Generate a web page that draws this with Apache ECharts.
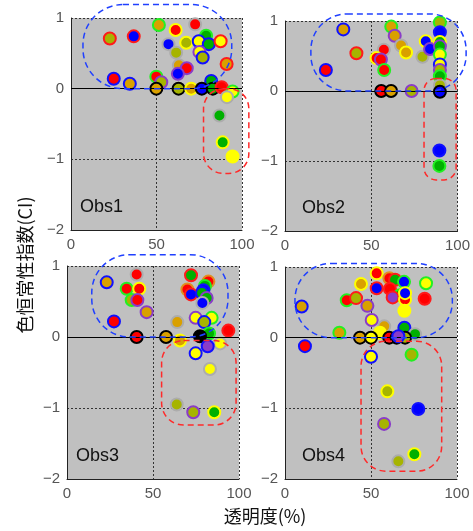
<!DOCTYPE html>
<html><head><meta charset="utf-8">
<script src="https://cdn.jsdelivr.net/npm/echarts@6/dist/echarts.min.js"></script>
<style>html,body{margin:0;padding:0;background:#fff}#c{width:473px;height:531px}</style>
</head><body><div id="c"></div><script>
// ---- data: [transparency %, CI, fill-condition, border-condition]
const panelNames = ['Obs1','Obs2','Obs3','Obs4'];
const xTicks = [0, 50, 100];
const yTicks = [-2, -1, 0, 1];
const xTitle = '透明度(%)';
const yTitle = '色恒常性指数(CI)';

const obs1 = [
[22.7,0.71,'L','R'],[36.7,0.74,'B','R'],[25,0.14,'R','B'],[34.4,0.07,'O','B'],
[51.4,0.90,'O','G'],[61.2,0.83,'R','Y'],[72.6,0.91,'R','N'],[57,0.63,'B','N'],
[67.4,0.65,'L','Y'],[61.5,0.51,'L','N'],[79,0.75,'G','G'],[74.7,0.67,'Y','B'],
[80.6,0.63,'G','B'],[87.5,0.67,'Y','R'],[75.1,0.52,'Y','P'],[77,0.44,'L','B'],
[63.1,0.33,'O','N'],[67.7,0.29,'R','P'],[62.5,0.21,'B','P'],[91,0.35,'O','R'],
[49.9,0.17,'R','G'],[52.8,0.09,'L','P'],[82,0.11,'G','B'],
[49.9,0,'O','K'],[62.9,0,'L','K'],[70.3,0,'O','Y'],[76.5,0,'B','K'],[82.9,0,'G','K'],
[88.1,0.02,'R','R'],[94.5,-0.04,'Y','G'],[91.2,-0.12,'Y','N'],
[86.8,-0.38,'G','N'],[88.7,-0.76,'G','Y'],[94.5,-0.96,'Y','Y']
];
const obs2 = [
[33.8,0.88,'O','B'],[41.4,0.54,'L','R'],[23.7,0.30,'R','B'],[61.6,0.92,'O','G'],
[63.6,0.79,'O','P'],[67.3,0.65,'O','N'],[70.2,0.55,'O','Y'],[57.3,0.59,'R','N'],
[53.1,0.47,'R','Y'],[55.6,0.45,'R','P'],[57.5,0.30,'R','G'],[81.6,0.71,'B','Y'],
[79.7,0.49,'L','N'],[84.1,0.60,'B','P'],
[89.8,0.98,'L','G'],[89.8,0.84,'B','B'],[89.8,0.70,'G','Y'],[89.8,0.64,'G','P'],
[89.8,0.52,'Y','G'],[89.8,0.38,'Y','B'],[89.8,0.30,'L','P'],[89.8,0.21,'G','G'],
[89.8,0.08,'L','N'],[89.8,-0.01,'B','K'],
[55.8,0,'R','K'],[61.5,0,'O','K'],[73.4,0,'L','P'],
[89.5,-0.85,'B','B'],[89.5,-1.07,'G','G']
];
const obs3 = [
[23.1,0.77,'O','B'],[40.5,0.88,'R','N'],[34.7,0.68,'R','G'],[42,0.68,'R','Y'],
[37.6,0.52,'L','G'],[40.9,0.52,'R','P'],[46.3,0.35,'O','P'],[27.3,0.22,'R','B'],
[40.5,0,'R','K'],[57.6,0,'O','K'],[64.1,0.21,'O','N'],
[72.1,0.87,'G','R'],[82.2,0.78,'R','O'],[80.2,0.72,'G','G'],[70,0.67,'R','O'],
[79.3,0.66,'B','B'],[72.1,0.60,'B','R'],[78.5,0.62,'G','B'],[81.2,0.55,'G','P'],
[78.7,0.48,'B','N'],[74.8,0.27,'Y','P'],[84.1,0.27,'Y','G'],[79.8,0.21,'L','B'],
[93.8,0.09,'R','R'],[82.6,0.05,'G','G'],[77.3,0.01,'K','K'],[65.7,-0.05,'O','Y'],
[89,-0.09,'Y','N'],[81.8,-0.13,'P','B'],[74.8,-0.23,'Y','B'],[83.1,-0.45,'Y','N'],
[63.8,-0.95,'L','N'],[73.4,-1.06,'L','P'],[85.6,-1.06,'G','Y']
];
const obs4 = [
[9.7,0.44,'O','B'],[11.6,-0.12,'R','B'],[31.6,0.07,'O','G'],[35.9,0.53,'R','G'],
[41.3,0.56,'L','R'],[44.2,0.76,'O','Y'],[53.3,0.91,'R','Y'],[53.3,0.70,'B','R'],
[47.9,0.45,'O','P'],[50.4,0.25,'Y','P'],[57.7,0.16,'O','N'],[55.2,0.07,'Y','Y'],
[60.7,0.84,'R','O'],[64,0.82,'G','R'],[61,0.69,'R','R'],[69.2,0.79,'B','G'],
[66.9,0.60,'G','G'],[62.6,0.57,'P','R'],[69.8,0.54,'R','Y'],[69.8,0.63,'B','Y'],
[69.4,0.38,'Y','Y'],[81.2,0.55,'R','R'],[82,0.77,'Y','G'],[69.4,0.14,'G','B'],
[75.6,0.05,'G','N'],
[43.6,0,'O','K'],[50,0,'Y','K'],[60.6,0,'R','K'],[64.9,0,'K','K'],[69.8,0,'L','K'],
[65.9,0.02,'P','B'],[50,-0.27,'Y','B'],[73.6,-0.24,'L','G'],
[59.5,-0.76,'L','Y'],[77.5,-1.01,'B','B'],[57.6,-1.22,'L','P'],
[75.2,-1.65,'G','Y'],[65.9,-1.75,'L','N']
];
const panels = [obs1, obs2, obs3, obs4];

// annotation zones in data coords: [x0, x1, yTop, yBottom]
const blueZones = [[7,94,1.19,0],[15,105,1.10,0],[14.4,93.6,1.16,0],[5.8,97.3,1.05,0]];
const redZones  = [[77.5,104,0,-1.2],[80.6,99.2,0.18,-1.27],[55,98.3,-0.05,-1.24],[44.2,91.1,-0.05,-1.89]];

// ---- styles
const FILL = {R:'#ff0000',B:'#0000ff',Y:'#ffff00',G:'#00b000',O:'#d9a000',L:'#a6b400',P:'#8a3cc8',K:'#000000',N:'#a8a8a8'};
const EDGE = {R:'#ff1a1a',B:'#1010ff',Y:'#ffff00',G:'#22f022',O:'#e09020',L:'#a6b400',P:'#8a3cc8',K:'#000000',N:'#acacac'};
const FONT = '"Liberation Sans", Arial, sans-serif';
const grids = [
  {left:71, top:18, width:171, height:212},
  {left:285, top:21, width:175, height:210},
  {left:67, top:266, width:172, height:213},
  {left:285, top:267, width:172, height:212}
];
const blueR = [40,36,38,36], redR = [20,12,22,25];

const chart = echarts.init(document.getElementById('c'), null, {renderer:'canvas'});
const splitStyle = {show:true, lineStyle:{color:'#333', type:[2,2], width:1}};
const option = {
  animation:false,
  backgroundColor:'#fff',
  grid: grids.map(g => Object.assign({backgroundColor:'#c0c0c0', show:true, borderWidth:0}, g)),
  xAxis: grids.map((g,i) => ({
    gridIndex:i, type:'value', min:xTicks[0], max:xTicks[xTicks.length-1], interval:xTicks[1]-xTicks[0],
    axisLine:{show:true, onZero:false, lineStyle:{color:'#222', width:1}},
    axisTick:{show:false},
    axisLabel:{color:'#555', fontSize:15, margin:7, fontFamily:FONT, showMaxLabel:true, showMinLabel:true},
    splitLine:splitStyle
  })),
  yAxis: grids.map((g,i) => ({
    gridIndex:i, type:'value', min:yTicks[0], max:yTicks[yTicks.length-1], interval:yTicks[1]-yTicks[0],
    axisLine:{show:true, onZero:false, lineStyle:{color:'#222', width:1}},
    axisTick:{show:false},
    axisLabel:{color:'#555', fontSize:15, margin:7, fontFamily:FONT, formatter:v => String(v).replace('-', '−')},
    splitLine:splitStyle
  })),
  series: []
};
panels.forEach((pts, i) => {
  option.series.push({
    type:'scatter', xAxisIndex:i, yAxisIndex:i, z:1, data:[], silent:true,
    markLine:{silent:true, symbol:'none', label:{show:false}, animation:false,
      lineStyle:{color:'#000', type:'solid', width:1}, data:[{yAxis:0}]}
  });
  option.series.push({
    type:'scatter', xAxisIndex:i, yAxisIndex:i, z:3, symbol:'circle', symbolSize:12,
    data: pts.map(p => ({value:[p[0], p[1]], itemStyle:{color:FILL[p[2]], borderColor:EDGE[p[3]], borderWidth:2, opacity:1}}))
  });
});
chart.setOption(option);

function zoneRect(i, z, color, r) {
  const a = chart.convertToPixel({gridIndex:i}, [z[0], z[2]]);
  const b = chart.convertToPixel({gridIndex:i}, [z[1], z[3]]);
  return {type:'rect', z:100, silent:true,
    shape:{x:a[0], y:a[1], width:b[0]-a[0], height:b[1]-a[1], r:r},
    style:{fill:null, stroke:color, lineWidth:1.5, lineDash:[6,4]}};
}
const gfx = [];
for (let i = 0; i < 4; i++) {
  gfx.push(zoneRect(i, blueZones[i], '#2040ff', blueR[i]));
  gfx.push(zoneRect(i, redZones[i], '#ff2a2a', redR[i]));
  const g = grids[i];
  gfx.push({type:'text', z:101, x:g.left + (i % 2 ? 17 : 9), y:g.top + g.height - 32,
    style:{text:panelNames[i], fill:'#111', font:'18px ' + FONT}});
}
gfx.push({type:'text', z:101, x:265, y:516, style:{text:xTitle, fill:'#111', font:'18px "Noto Sans CJK JP", sans-serif', align:'center', verticalAlign:'middle'}});
gfx.push({type:'text', z:101, x:25, y:265, rotation:Math.PI/2, style:{text:yTitle, fill:'#111', font:'18px "Noto Sans CJK JP", sans-serif', align:'center', verticalAlign:'middle'}});
chart.setOption({graphic:gfx});
</script></body></html>
